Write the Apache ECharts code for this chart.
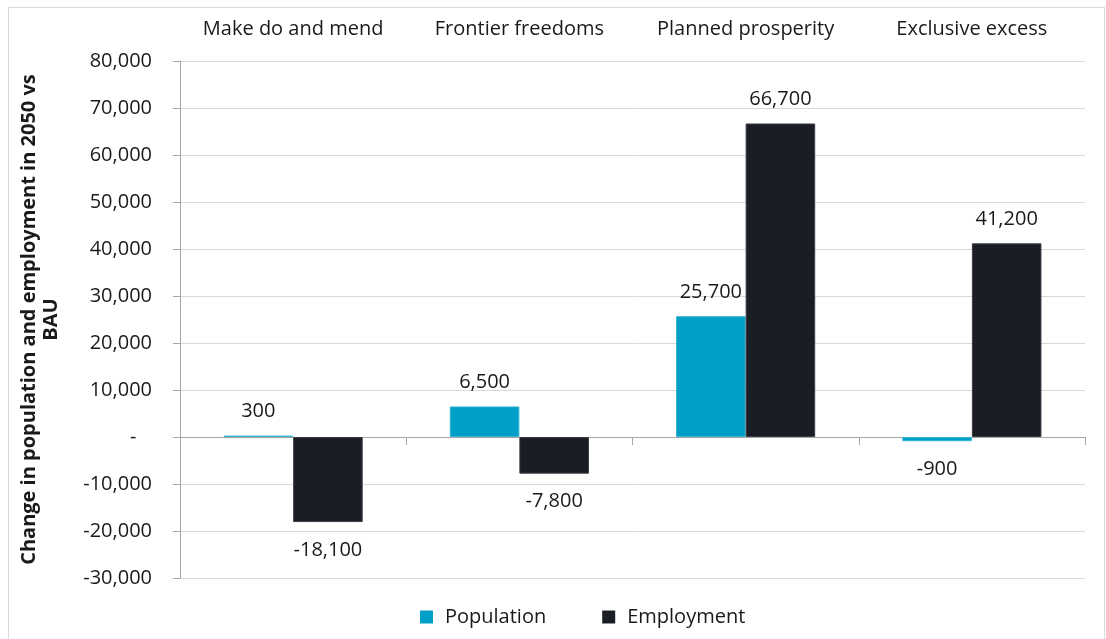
<!DOCTYPE html>
<html><head><meta charset="utf-8">
<script src="https://cdn.jsdelivr.net/npm/echarts@6/dist/echarts.min.js"></script>
<style>html,body{margin:0;padding:0;background:#fff}#c{width:1106px;height:639px}
#frame{position:absolute;left:8px;top:7px;width:1097px;height:640px;border:1px solid #d9d9d9;box-sizing:border-box;pointer-events:none}</style>
</head><body><div id="c"></div><div id="frame"></div>
<script>
const categories = ["Make do and mend", "Frontier freedoms", "Planned prosperity", "Exclusive excess"];
const population = [300, 6500, 25700, -900];
const employment = [-18100, -7800, 66700, 41200];
const yTitle = "Change in population and employment in 2050 vs\nBAU";

const fmt = v => v === 0 ? "-   " : v.toLocaleString("en-US");
const font = "'Open Sans', 'Noto Sans', sans-serif";
const chart = echarts.init(document.getElementById('c'));
const lbl = {show: true, fontFamily: font, fontSize: 20, color: '#1a1a1a', distance: 14,
  formatter: p => fmt(p.value)};
function mk(name, data, color, border) {
  return {
    name, type: 'bar',
    data: data.map(v => ({value: v, label: v < 0 ? {position: 'bottom', distance: 18} : {position: 'top'}})),
    xAxisIndex: 0, barGap: '0%', barCategoryGap: '38.5%',
    itemStyle: {color, borderColor: border, borderWidth: 1},
    label: lbl
  };
}
chart.setOption({
  animation: false,
  textStyle: {fontFamily: font},
  grid: {left: 180, right: 21, top: 61, bottom: 61},
  legend: {bottom: 7, left: 415, itemWidth: 13, itemHeight: 13, itemGap: 56, icon: 'rect',
    itemStyle: {borderWidth: 0},
    textStyle: {fontFamily: font, fontSize: 20, color: '#1a1a1a', padding: [0, 0, 0, 7]}, data: ['Population', 'Employment']},
  xAxis: [
    {type: 'category', data: categories, position: 'top', axisLine: {show: false, onZero: false},
     axisTick: {show: false}, axisLabel: {interval: 0, fontFamily: font, fontSize: 20, color: '#1a1a1a', margin: 22}},
    {type: 'category', data: categories, position: 'bottom', axisLine: {show: true, onZero: true, lineStyle: {color: '#a6a6a6', width: 1}},
     axisTick: {show: true, interval: 0, length: 8, lineStyle: {color: '#a6a6a6'}}, axisLabel: {show: false}}
  ],
  yAxis: {type: 'value', min: -30000, max: 80000, interval: 10000,
    name: yTitle, nameLocation: 'middle', nameGap: 118, nameRotate: 90,
    nameTextStyle: {fontFamily: font, fontSize: 20, fontWeight: 'bold', color: '#1a1a1a', lineHeight: 22},
    axisLine: {show: true, lineStyle: {color: '#a6a6a6'}},
    axisTick: {show: true, length: 7, lineStyle: {color: '#a6a6a6'}},
    axisLabel: {fontFamily: font, fontSize: 20, color: '#1a1a1a', margin: 28, formatter: fmt},
    splitLine: {lineStyle: {color: '#d9d9d9', width: 1}}},
  series: [
    mk('Population', population, '#009fc7', '#33b2d2'),
    mk('Employment', employment, '#1a1d24', '#3a3d44')
  ]
});
</script></body></html>
